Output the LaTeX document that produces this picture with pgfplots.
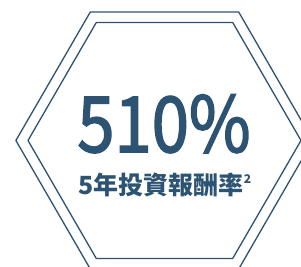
\documentclass[border=0pt]{standalone}
\usepackage{fontspec}
\usepackage{pgfplots}
\pgfplotsset{compat=1.18}
\newfontfamily\cjk{Noto Sans CJK TC}
\newfontfamily\cjkmed[FakeBold=2.2]{Noto Sans CJK TC}
\definecolor{hexblue}{RGB}{45,83,115}
\begin{document}
\begin{tikzpicture}
\begin{axis}[width=301pt,height=267pt,scale only axis,
  xmin=0,xmax=301,ymin=0,ymax=267,hide axis,clip=true]
% outer hexagon
\addplot[hexblue,line width=1.3pt] coordinates {
  (15.9,126.5) (90.3,255.0) (238.7,255.0) (312.9,126.5) (238.7,-2.0) (90.3,-2.0) (15.9,126.5)};
% inner hexagon
\addplot[hexblue,line width=1.3pt] coordinates {
  (28.0,126.5) (96.3,244.5) (232.7,244.5) (301.0,126.5) (232.7,8.5) (96.3,8.5) (28.0,126.5)};
\node[anchor=base,text=hexblue,inner sep=0,xscale=0.87] at (axis cs:164,115)
  {\cjkmed\fontsize{77}{77}\selectfont 510\%};
\node[anchor=base,text=hexblue,inner sep=0] at (axis cs:165,72)
  {\cjk\bfseries\fontsize{25}{25}\selectfont 5年投資報酬率\raisebox{0.45em}{\fontsize{12}{12}\selectfont 2}};
\coordinate (ll) at (rel axis cs:0,0);
\coordinate (ur) at (rel axis cs:1,1);
\end{axis}
\pgfresetboundingbox
\useasboundingbox (ll) rectangle (ur);
\end{tikzpicture}
\end{document}
